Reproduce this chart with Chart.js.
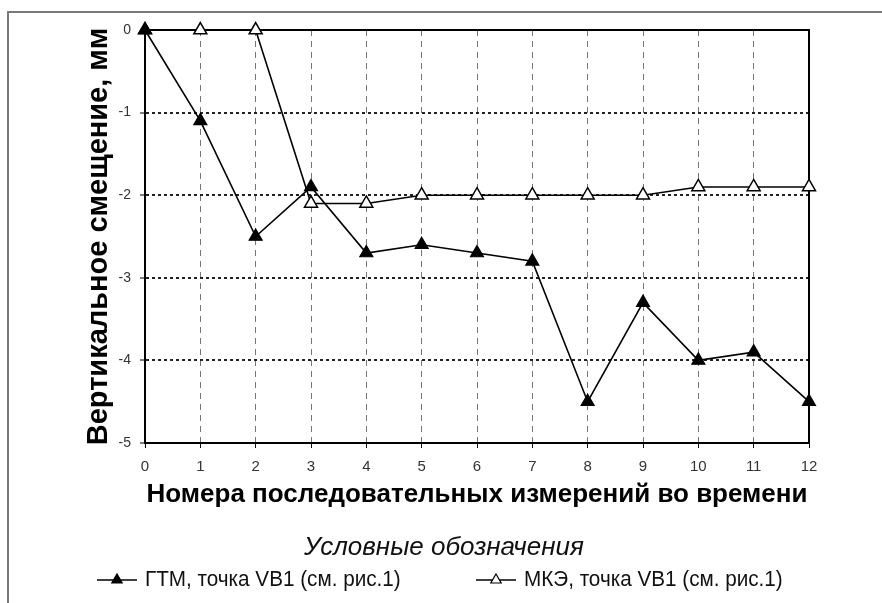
<!DOCTYPE html>
<html><head><meta charset="utf-8">
<script src="https://cdn.jsdelivr.net/npm/chart.js@4/dist/chart.umd.min.js"></script>
<style>html,body{margin:0;padding:0;background:#fff}#wrap{width:882px;height:603px;position:relative}</style>
</head><body><div id="wrap"><canvas id="c" width="882" height="603"></canvas></div>
<script>
const measurements = [0, 1, 2, 3, 4, 5, 6, 7, 8, 9, 10, 11, 12];
const gtmValues = [0, -1.1, -2.5, -1.9, -2.7, -2.6, -2.7, -2.8, -4.5, -3.3, -4.0, -3.9, -4.5];
const mkeValues = [0, 0, 0, -2.1, -2.1, -2.0, -2.0, -2.0, -2.0, -2.0, -1.9, -1.9, -1.9];
const seriesLabels = ["ГТМ, точка VB1 (см. рис.1)", "МКЭ, точка VB1 (см. рис.1)"];
const xTitle = "Номера последовательных измерений во времени";
const yTitle = "Вертикальное смещение, мм";
const legendTitle = "Условные обозначения";

const toPts = vals => measurements.map((m, i) => ({x: m, y: vals[i]}));

const framePlugin = {
  id: 'frame',
  beforeDraw(chart) {
    const ctx = chart.ctx;
    ctx.save();
    ctx.strokeStyle = '#7a7a7a';
    ctx.lineWidth = 2;
    ctx.beginPath();
    ctx.moveTo(8, 603);
    ctx.lineTo(8, 12);
    ctx.lineTo(882, 12);
    ctx.stroke();
    ctx.restore();
  },
  beforeDatasetsDraw(chart) {
    const {ctx, chartArea: a} = chart;
    ctx.save();
    ctx.strokeStyle = '#000';
    ctx.lineWidth = 2;
    ctx.strokeRect(a.left, a.top, a.right - a.left, a.bottom - a.top);
    ctx.restore();
  },
  afterDraw(chart) {
    const ctx = chart.ctx;
    ctx.save();
    ctx.fillStyle = '#111';
    ctx.textAlign = 'center';
    ctx.textBaseline = 'middle';
    ctx.font = 'italic 26px "Liberation Sans", Arial, sans-serif';
    ctx.fillText(legendTitle, 444, 548);
    const items = [{x: 97}, {x: 476}];
    chart.data.datasets.forEach((ds, i) => {
      const x0 = items[i].x, y = 580;
      ctx.strokeStyle = '#000';
      ctx.lineWidth = 1.5;
      ctx.beginPath(); ctx.moveTo(x0, y); ctx.lineTo(x0 + 40, y); ctx.stroke();
      ctx.fillStyle = ds.pointBackgroundColor;
      ctx.lineWidth = 1.2;
      ctx.beginPath();
      const r = 6;
      ctx.moveTo(x0 + 20, y - r);
      ctx.lineTo(x0 + 20 + r * 0.866, y + r * 0.5);
      ctx.lineTo(x0 + 20 - r * 0.866, y + r * 0.5);
      ctx.closePath(); ctx.fill(); ctx.stroke();
      ctx.save();
      ctx.translate(x0 + 48, y);
      ctx.scale(0.94, 1);
      ctx.fillStyle = '#111';
      ctx.textAlign = 'left';
      ctx.font = '22px "Liberation Sans", Arial, sans-serif';
      ctx.fillText(ds.label, 0, 0);
      ctx.restore();
    });
    ctx.restore();
  }
};

new Chart(document.getElementById('c'), {
  type: 'line',
  data: {
    datasets: [
      {label: seriesLabels[0], data: toPts(gtmValues), borderColor: '#000', borderWidth: 1.6, clip: false,
       pointStyle: 'triangle', pointRadius: 7.5, pointBackgroundColor: '#000', pointBorderColor: '#000', pointBorderWidth: 1.2, tension: 0},
      {label: seriesLabels[1], data: toPts(mkeValues), borderColor: '#000', borderWidth: 1.6, clip: false,
       pointStyle: 'triangle', pointRadius: 7.5, pointBackgroundColor: '#fff', pointBorderColor: '#000', pointBorderWidth: 1.5, tension: 0}
    ]
  },
  options: {
    responsive: false,
    animation: false,
    devicePixelRatio: 1,
    layout: {padding: {left: 82, top: 30, right: 73, bottom: 93}},
    plugins: {legend: {display: false}, tooltip: {enabled: false}},
    scales: {
      x: {
        type: 'linear', min: 0, max: 12,
        afterFit: s => { s.height = 67; },
        ticks: {stepSize: 1, color: '#333', padding: 10, font: {family: '"Liberation Sans", Arial, sans-serif', size: 15}},
        grid: {color: '#777', lineWidth: 1, tickLength: 5, tickColor: '#000', tickWidth: 1, tickBorderDash: []},
        border: {display: true, color: '#000', width: 2, dash: [6, 5]},
        title: {display: true, text: xTitle, color: '#000', padding: 0,
                font: {family: '"Liberation Sans", Arial, sans-serif', size: 26, weight: 'bold'}}
      },
      y: {
        type: 'linear', min: -5, max: 0,
        afterFit: s => { s.width = 63; },
        ticks: {stepSize: 1, color: '#333', padding: 9, font: {family: '"Liberation Sans", Arial, sans-serif', size: 14}},
        grid: {color: '#222', lineWidth: 2, tickLength: 5, tickColor: '#000', tickWidth: 1, tickBorderDash: []},
        border: {display: true, color: '#000', width: 2, dash: [3, 3]},
        title: {display: true, text: yTitle, color: '#000', padding: 0,
                font: {family: '"Liberation Sans", Arial, sans-serif', size: 29, weight: 'bold'}}
      }
    }
  },
  plugins: [framePlugin]
});
</script>
</body></html>
